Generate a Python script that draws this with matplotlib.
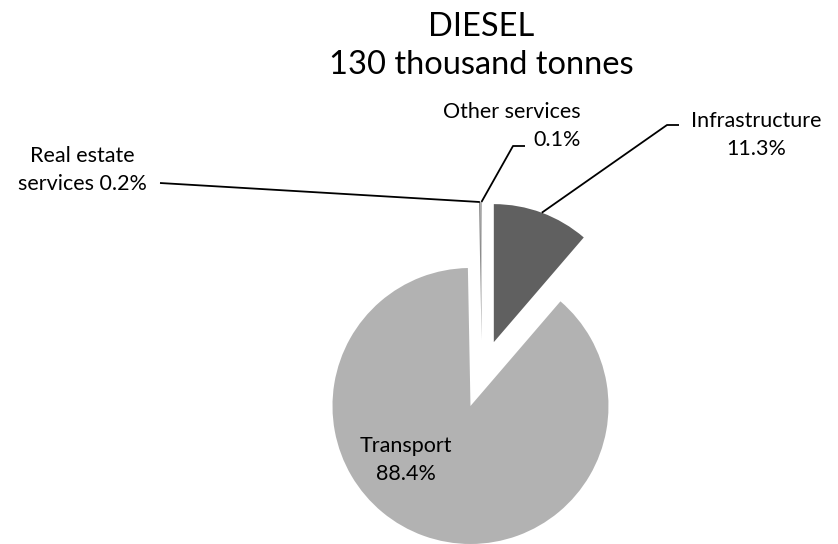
import numpy as np
import matplotlib.pyplot as plt

plt.rcParams['font.family'] = ['Lato', 'DejaVu Sans']

# data
categories = ["Infrastructure", "Transport", "Real estate\nservices", "Other services"]
shares = [11.3, 88.4, 0.2, 0.1]
colors = ["#606060", "#b2b2b2", "#8c8c8c", "#a8a8a8"]
title = "DIESEL\n130 thousand tonnes"

W, H = 838, 544


def py(y):
    # pixel row (from top) -> data y
    return H - y


fig = plt.figure(figsize=(W / 100, H / 100), dpi=100)
ax = fig.add_axes([0, 0, 1, 1])

wedges, _ = ax.pie(shares, colors=colors, startangle=90, counterclock=False,
                   center=(482, py(374)), radius=138, explode=[34] * 4,
                   wedgeprops=dict(linewidth=0), frame=True)
ax.set_xlim(0, W)
ax.set_ylim(0, H)
ax.axis("off")


def arc_mid(w):
    t = np.deg2rad((w.theta1 + w.theta2) / 2)
    return w.center[0] + w.r * np.cos(t), w.center[1] + w.r * np.sin(t)


lk = dict(color="black", lw=1.3, solid_capstyle="butt")
fs = 15.5

# Infrastructure
x0, y0 = arc_mid(wedges[0])
ax.plot([x0, 667, 679], [y0, py(125), py(125)], **lk)
ax.text(756, py(135), f"{categories[0]}\n{shares[0]}%", ha="center", va="center",
        fontsize=fs, linespacing=1.45)

# Transport label inside
ax.text(406, py(460), f"{categories[1]}\n{shares[1]}%", ha="center", va="center",
        fontsize=fs, linespacing=1.45)

# Real estate services
x0, y0 = arc_mid(wedges[2])
ax.plot([x0, 160], [y0, py(183)], **lk)
ax.text(82, py(170), f"Real estate\nservices {shares[2]}%", ha="center", va="center",
        fontsize=fs, linespacing=1.45)

# Other services
x0, y0 = arc_mid(wedges[3])
ax.plot([x0, 513, 525], [y0, py(146), py(146)], **lk)
ax.text(581, py(126), f"{categories[3]}\n{shares[3]}%", ha="right", va="center",
        fontsize=fs, linespacing=1.45, multialignment="right")

# title
ax.text(481, py(46), title, ha="center", va="center", fontsize=23.5, linespacing=1.3)

fig.savefig("out.png", dpi=100)
